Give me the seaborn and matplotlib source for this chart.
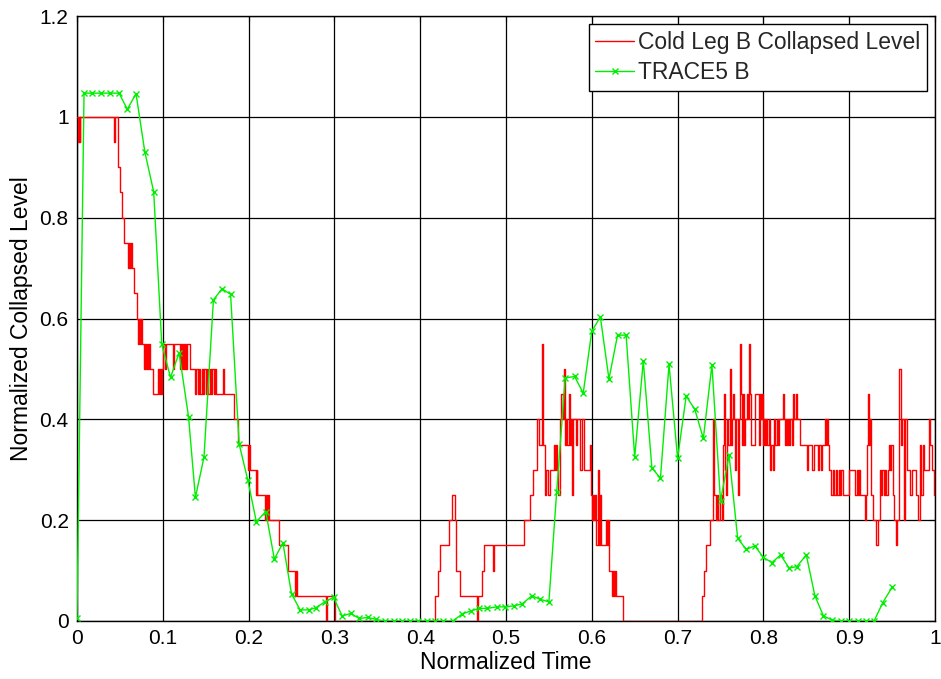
import numpy as np
import pandas as pd
import matplotlib
matplotlib.use("Agg")
import matplotlib.pyplot as plt
import seaborn as sns

# ---------------- data ----------------
# Cold Leg B collapsed level (measured, stepwise)
red_t = [
    0.0000, 0.0010, 0.0020, 0.0030, 0.0040, 0.0431, 0.0439, 0.0482, 0.0501, 0.0529,
    0.0552, 0.0599, 0.0606, 0.0618, 0.0626, 0.0638, 0.0669, 0.0696, 0.0707, 0.0719,
    0.0731, 0.0743, 0.0754, 0.0781, 0.0793, 0.0805, 0.0816, 0.0828, 0.0840, 0.0851,
    0.0890, 0.0949, 0.0960, 0.0968, 0.0975, 0.0985, 0.1007, 0.1026, 0.1038, 0.1123,
    0.1135, 0.1201, 0.1213, 0.1224, 0.1236, 0.1248, 0.1259, 0.1271, 0.1283, 0.1318,
    0.1376, 0.1392, 0.1407, 0.1423, 0.1438, 0.1454, 0.1469, 0.1485, 0.1500, 0.1516,
    0.1532, 0.1547, 0.1563, 0.1578, 0.1594, 0.1609, 0.1625, 0.1699, 0.1714, 0.1830,
    0.1881, 0.1998, 0.2009, 0.2021, 0.2084, 0.2095, 0.2103, 0.2192, 0.2204, 0.2216,
    0.2227, 0.2239, 0.2360, 0.2464, 0.2542, 0.2550, 0.2561, 0.2904, 0.2919, 0.3009,
    0.4175, 0.4202, 0.4225, 0.4338, 0.4370, 0.4401, 0.4420, 0.4459, 0.4661, 0.4672,
    0.4719, 0.4738, 0.4847, 0.4863, 0.5213, 0.5283, 0.5314, 0.5361, 0.5384, 0.5423,
    0.5435, 0.5458, 0.5470, 0.5493, 0.5509, 0.5555, 0.5571, 0.5582, 0.5594, 0.5610,
    0.5633, 0.5645, 0.5660, 0.5676, 0.5688, 0.5703, 0.5715, 0.5730, 0.5742, 0.5754,
    0.5765, 0.5777, 0.5815, 0.5831, 0.5858, 0.5885, 0.5905, 0.5983, 0.5994, 0.6006,
    0.6018, 0.6029, 0.6041, 0.6053, 0.6068, 0.6080, 0.6092, 0.6103, 0.6169, 0.6181,
    0.6193, 0.6204, 0.6235, 0.6247, 0.6263, 0.6274, 0.6286, 0.6360, 0.7285, 0.7304,
    0.7335, 0.7382, 0.7417, 0.7429, 0.7444, 0.7460, 0.7475, 0.7498, 0.7514, 0.7530,
    0.7541, 0.7553, 0.7568, 0.7580, 0.7592, 0.7607, 0.7619, 0.7630, 0.7642, 0.7654,
    0.7669, 0.7685, 0.7700, 0.7712, 0.7724, 0.7735, 0.7747, 0.7759, 0.7774, 0.7790,
    0.7805, 0.7821, 0.7836, 0.7848, 0.7860, 0.7899, 0.7953, 0.7965, 0.7977, 0.7988,
    0.8000, 0.8012, 0.8023, 0.8035, 0.8047, 0.8062, 0.8078, 0.8093, 0.8109, 0.8124,
    0.8140, 0.8155, 0.8171, 0.8187, 0.8225, 0.8237, 0.8249, 0.8260, 0.8276, 0.8288,
    0.8299, 0.8315, 0.8330, 0.8346, 0.8361, 0.8377, 0.8393, 0.8424, 0.8509, 0.8525,
    0.8571, 0.8587, 0.8634, 0.8649, 0.8676, 0.8684, 0.8715, 0.8731, 0.8742, 0.8754,
    0.8770, 0.8785, 0.8808, 0.8824, 0.8847, 0.8863, 0.8878, 0.8894, 0.8909, 0.8925,
    0.9003, 0.9065, 0.9092, 0.9104, 0.9119, 0.9131, 0.9181, 0.9197, 0.9213, 0.9220,
    0.9232, 0.9244, 0.9255, 0.9275, 0.9317, 0.9333, 0.9356, 0.9372, 0.9387, 0.9403,
    0.9418, 0.9434, 0.9450, 0.9465, 0.9481, 0.9492, 0.9508, 0.9523, 0.9543, 0.9562,
    0.9586, 0.9605, 0.9620, 0.9636, 0.9655, 0.9675, 0.9713, 0.9733, 0.9783, 0.9803,
    0.9830, 0.9842, 0.9857, 0.9873, 0.9927, 0.9946, 0.9965, 0.9984, 1.0000,
]
red_level = [
    1.00, 0.95, 1.00, 0.95, 1.00, 0.95, 1.00, 0.90, 0.85, 0.80,
    0.75, 0.70, 0.75, 0.70, 0.75, 0.70, 0.65, 0.60, 0.55, 0.60,
    0.55, 0.60, 0.55, 0.50, 0.55, 0.50, 0.55, 0.50, 0.55, 0.50,
    0.45, 0.50, 0.45, 0.50, 0.45, 0.50, 0.55, 0.50, 0.55, 0.50,
    0.55, 0.50, 0.55, 0.50, 0.55, 0.50, 0.55, 0.50, 0.55, 0.50,
    0.45, 0.50, 0.45, 0.50, 0.45, 0.50, 0.45, 0.50, 0.45, 0.50,
    0.45, 0.50, 0.45, 0.50, 0.45, 0.50, 0.45, 0.50, 0.45, 0.40,
    0.35, 0.30, 0.35, 0.30, 0.25, 0.30, 0.25, 0.20, 0.25, 0.20,
    0.25, 0.20, 0.15, 0.10, 0.05, 0.10, 0.05, 0.00, 0.05, 0.00,
    0.05, 0.10, 0.15, 0.20, 0.25, 0.20, 0.10, 0.05, 0.00, 0.05,
    0.10, 0.15, 0.10, 0.15, 0.20, 0.25, 0.30, 0.40, 0.35, 0.55,
    0.35, 0.25, 0.30, 0.25, 0.30, 0.35, 0.30, 0.35, 0.30, 0.25,
    0.40, 0.45, 0.40, 0.50, 0.35, 0.40, 0.35, 0.45, 0.35, 0.40,
    0.25, 0.40, 0.35, 0.40, 0.30, 0.40, 0.30, 0.35, 0.25, 0.20,
    0.25, 0.20, 0.25, 0.15, 0.30, 0.15, 0.25, 0.15, 0.20, 0.15,
    0.20, 0.10, 0.05, 0.10, 0.05, 0.10, 0.05, 0.00, 0.05, 0.10,
    0.15, 0.20, 0.40, 0.25, 0.20, 0.25, 0.20, 0.25, 0.20, 0.35,
    0.45, 0.30, 0.25, 0.40, 0.35, 0.50, 0.35, 0.40, 0.45, 0.40,
    0.30, 0.40, 0.25, 0.40, 0.55, 0.45, 0.35, 0.45, 0.35, 0.40,
    0.45, 0.40, 0.55, 0.45, 0.35, 0.45, 0.35, 0.45, 0.40, 0.45,
    0.35, 0.40, 0.35, 0.40, 0.35, 0.40, 0.30, 0.35, 0.30, 0.40,
    0.35, 0.40, 0.35, 0.40, 0.45, 0.40, 0.35, 0.40, 0.35, 0.40,
    0.35, 0.40, 0.35, 0.45, 0.40, 0.45, 0.40, 0.35, 0.30, 0.35,
    0.30, 0.35, 0.30, 0.35, 0.30, 0.35, 0.40, 0.35, 0.40, 0.35,
    0.30, 0.25, 0.30, 0.25, 0.30, 0.25, 0.30, 0.25, 0.30, 0.25,
    0.30, 0.25, 0.30, 0.25, 0.30, 0.25, 0.20, 0.25, 0.35, 0.45,
    0.35, 0.40, 0.25, 0.20, 0.15, 0.20, 0.30, 0.25, 0.30, 0.25,
    0.30, 0.25, 0.30, 0.35, 0.30, 0.35, 0.25, 0.20, 0.15, 0.20,
    0.50, 0.35, 0.40, 0.20, 0.40, 0.30, 0.25, 0.30, 0.25, 0.20,
    0.35, 0.25, 0.35, 0.30, 0.40, 0.35, 0.30, 0.25, 0.25,
]

# TRACE5 B simulation
trace_t = [
    0.000, 0.0082, 0.018, 0.028, 0.038, 0.049, 0.0587, 0.0688, 0.079, 0.0894,
    0.0988, 0.109, 0.119, 0.130, 0.138, 0.148, 0.159, 0.169, 0.179, 0.189,
    0.199, 0.209, 0.220, 0.230, 0.240, 0.250, 0.260, 0.270, 0.278, 0.289,
    0.299, 0.309, 0.319, 0.329, 0.339, 0.349, 0.359, 0.369, 0.379, 0.388,
    0.398, 0.408, 0.417, 0.427, 0.438, 0.449, 0.459, 0.469, 0.478, 0.489,
    0.499, 0.509, 0.519, 0.530, 0.540, 0.550, 0.559, 0.569, 0.580, 0.590,
    0.600, 0.610, 0.620, 0.630, 0.640, 0.650, 0.660, 0.670, 0.680, 0.690,
    0.700, 0.710, 0.720, 0.730, 0.740, 0.750, 0.760, 0.770, 0.780, 0.790,
    0.800, 0.810, 0.820, 0.830, 0.839, 0.850, 0.860, 0.870, 0.880, 0.890,
    0.900, 0.910, 0.920, 0.929, 0.939, 0.950,
]
trace_level = [
    0.005, 1.047, 1.047, 1.047, 1.047, 1.047, 1.015, 1.046, 0.931, 0.851,
    0.549, 0.483, 0.532, 0.405, 0.245, 0.325, 0.637, 0.659, 0.648, 0.351,
    0.280, 0.197, 0.217, 0.123, 0.155, 0.054, 0.022, 0.022, 0.026, 0.038,
    0.047, 0.010, 0.015, 0.005, 0.007, 0.003, 0.000, 0.000, 0.000, 0.000,
    0.000, 0.000, 0.000, 0.000, 0.000, 0.014, 0.020, 0.025, 0.025, 0.028,
    0.028, 0.030, 0.034, 0.050, 0.043, 0.038, 0.255, 0.482, 0.485, 0.452,
    0.575, 0.603, 0.480, 0.567, 0.567, 0.325, 0.516, 0.304, 0.283, 0.509,
    0.323, 0.446, 0.420, 0.362, 0.508, 0.238, 0.329, 0.164, 0.142, 0.149,
    0.126, 0.116, 0.131, 0.105, 0.108, 0.131, 0.050, 0.010, 0.002, 0.000,
    0.000, 0.000, 0.000, 0.000, 0.036, 0.067,
]

x_ticks = [0, 0.1, 0.2, 0.3, 0.4, 0.5, 0.6, 0.7, 0.8, 0.9, 1.0]
x_tick_labels = ["0", "0.1", "0.2", "0.3", "0.4", "0.5", "0.6", "0.7", "0.8", "0.9", "1"]
y_ticks = [0, 0.2, 0.4, 0.6, 0.8, 1.0, 1.2]
y_tick_labels = ["0", "0.2", "0.4", "0.6", "0.8", "1", "1.2"]

series_names = ["Cold Leg B Collapsed Level", "TRACE5 B"]
x_label = "Normalized Time"
y_label = "Normalized Collapsed Level"

assert len(red_t) == len(red_level)
assert len(trace_t) == len(trace_level)

# ---------------- plot ----------------
sns.set_theme(style="white")
plt.rcParams['font.family'] = ['Liberation Sans', 'DejaVu Sans']

fig = plt.figure(figsize=(9.41, 6.79), dpi=100)
W, H = 941, 679
ax = fig.add_axes([77 / W, 1 - 621 / H, (935 - 77) / W, (621 - 16) / H])

red_df = pd.DataFrame({"t": red_t, "level": red_level})
trace_df = pd.DataFrame({"t": trace_t, "level": trace_level})

sns.lineplot(data=red_df, x="t", y="level", ax=ax, color="#ff0000", linewidth=1.0,
             drawstyle="steps-post", estimator=None, sort=False,
             label=series_names[0], zorder=3)
sns.lineplot(data=trace_df, x="t", y="level", ax=ax, color="#00ee00", linewidth=1.0,
             marker="x", markersize=5, markeredgewidth=1.0, markeredgecolor="#00ee00",
             estimator=None, sort=False, label=series_names[1], zorder=4)

ax.set_xlim(0, 1)
ax.set_ylim(0, 1.2)
ax.set_xticks(x_ticks)
ax.set_xticklabels(x_tick_labels)
ax.set_yticks(y_ticks)
ax.set_yticklabels(y_tick_labels)
ax.grid(True, color="black", linewidth=0.9, linestyle="-")
ax.set_axisbelow(True)
ax.tick_params(axis="both", direction="in", length=4, width=0.8, colors="black",
               labelsize=15, top=True, right=True, pad=6)
for s in ax.spines.values():
    s.set_color("black")
    s.set_linewidth(1.0)

ax.set_xlabel(x_label, fontsize=16.5, color="black", labelpad=2)
ax.set_ylabel(y_label, fontsize=16.5, color="black", labelpad=5)

leg = ax.legend(loc="upper right", frameon=True, fancybox=False, edgecolor="black",
                fontsize=16.5, handlelength=1.7, handletextpad=0.15, borderpad=0.3,
                labelspacing=0.3, borderaxespad=0.35, numpoints=1)
leg.get_frame().set_linewidth(1.0)
leg.get_frame().set_alpha(1.0)

fig.savefig("out.png", dpi=100, facecolor="white")
